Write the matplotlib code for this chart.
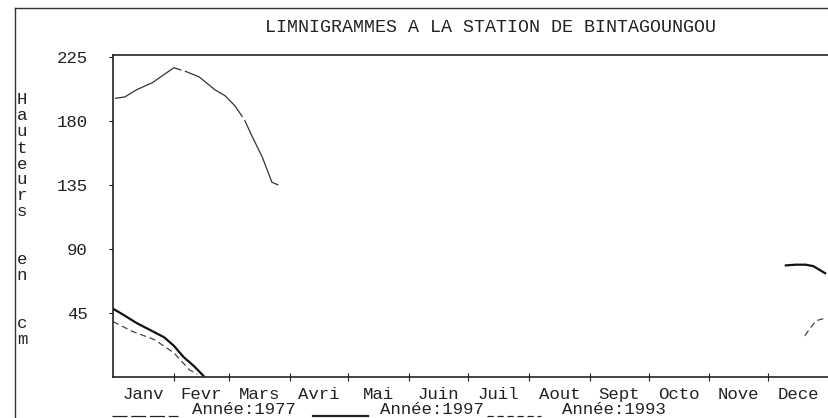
import numpy as np
import matplotlib
matplotlib.use('Agg')
import matplotlib.pyplot as plt
from matplotlib.lines import Line2D

# limnigrammes, jours depuis le 1er janvier / hauteurs en cm
days_1977 = [1, 6, 12, 20, 31, 37, 44, 52, 57, 62, 67, 71, 76, 81, 86]
h_1977 = [196, 197, 202, 207, 217.5, 215, 211, 202, 198, 191, 181, 169, 155, 137, 134]

days_1997_jan = [0, 5, 12, 19, 26, 31, 36, 41, 46]
h_1997_jan = [48, 44, 38, 33, 28, 22, 14, 8, 1]
days_1997_dec = [343, 348, 353, 357, 363]
h_1997_dec = [78.5, 79, 79, 78, 73]

days_1993_jan = [0, 10, 21, 31, 39, 43]
h_1993_jan = [39, 32, 26.4, 17, 5, 2]
days_1993_dec = [352.7, 355, 358.3, 361.2, 363]
h_1993_dec = [29, 33.6, 39.5, 40.7, 41.2]

months = ['Janv', 'Fevr', 'Mars', 'Avri', 'Mai', 'Juin', 'Juil',
          'Aout', 'Sept', 'Octo', 'Nove', 'Dece']
month_edges = [0, 31, 59, 90, 120, 151, 181, 212, 243, 273, 304, 334, 365]
yticks = [45, 90, 135, 180, 225]

font = 'Liberation Mono'
W, H = 829, 418
fig = plt.figure(figsize=(W / 100, H / 100), dpi=100)
ax = fig.add_axes([113 / W, 1 - 377 / H, (W - 113) / W, (377 - 55) / H])

ls_1977 = (0, (60, 3))
ls_1993 = (0, (5, 3))
ax.plot(days_1977, h_1977, color='#333333', lw=0.9, ls=ls_1977)
ax.plot(days_1997_jan, h_1997_jan, color='#111111', lw=1.6)
ax.plot(days_1997_dec, h_1997_dec, color='#111111', lw=1.6)
ax.plot(days_1993_jan, h_1993_jan, color='#444444', lw=0.9, ls=ls_1993)
ax.plot(days_1993_dec, h_1993_dec, color='#444444', lw=0.9, ls=ls_1993)

ax.set_xlim(0, 365)
ax.set_ylim(0, 226.5)
ax.spines['right'].set_visible(False)
for s in ['left', 'top', 'bottom']:
    ax.spines[s].set_linewidth(1.2)
    ax.spines[s].set_color('#222222')

ax.set_yticks(yticks)
ax.set_yticklabels([str(v) for v in yticks], fontfamily=font, fontsize=12.5)
ax.tick_params(axis='y', length=3, pad=15, colors='#222222')

ax.set_xticks(month_edges[1:-1])
ax.set_xticklabels([])
mids = [(month_edges[i] + month_edges[i + 1]) / 2 for i in range(12)]
ax.set_xticks(mids, minor=True)
ax.set_xticklabels(months, minor=True, fontfamily=font, fontsize=12.5)
ax.tick_params(axis='x', which='major', direction='inout', length=6, colors='#222222')
ax.tick_params(axis='x', which='minor', length=0, pad=7, colors='#222222')

fig.text(491 / W, 1 - 28 / H, 'LIMNIGRAMMES A LA STATION DE BINTAGOUNGOU',
         fontfamily=font, fontsize=13.2, ha='center', va='center', color='#222222')

ylab = 'Hauteurs  en  cm'
for i, ch in enumerate(ylab):
    if ch != ' ':
        fig.text(22 / W, 1 - (100 + 16 * i) / H, ch, fontfamily=font,
                 fontsize=12.5, ha='center', va='center', color='#222222')

# cadre exterieur
fig.add_artist(Line2D([15 / W, 15 / W], [0, 1 - 8 / H], transform=fig.transFigure,
                      color='#333333', lw=1.0))
fig.add_artist(Line2D([15 / W, 1], [1 - 8 / H, 1 - 8 / H], transform=fig.transFigure,
                      color='#333333', lw=1.0))

# legende
leg = [((112, 178), (0, (12, 3)), 0.9, 'Année:1977', 192),
       ((313, 368), '-', 1.6, 'Année:1997', 380),
       ((487, 541), ls_1993, 0.9, 'Année:1993', 562)]
for (x0, x1), ls, lw, lab, xt in leg:
    fig.add_artist(Line2D([x0 / W, x1 / W], [1 - 416 / H, 1 - 416 / H],
                          transform=fig.transFigure, color='#222222', lw=lw, ls=ls))
    fig.text(xt / W, 1 - 410 / H, lab, fontfamily=font, fontsize=12.5,
             ha='left', va='center', color='#222222')

fig.savefig('out.png', dpi=100)
